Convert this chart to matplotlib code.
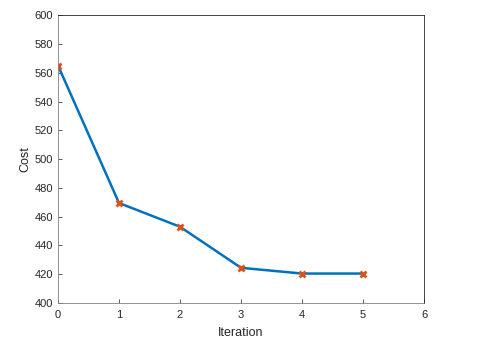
import matplotlib
matplotlib.use("Agg")
import matplotlib.pyplot as plt

plt.rcParams["font.family"] = ["Liberation Sans", "DejaVu Sans"]

iterations = [0, 1, 2, 3, 4, 5]
cost = [565, 469.5, 453, 424.5, 420.5, 420.5]

fig = plt.figure(figsize=(5, 3.44), dpi=100)
ax = fig.add_axes([0.116, 0.119, 0.732, 0.837])

ax.plot(iterations, cost, color="#0072BD", linewidth=1.8)
ax.plot(iterations, cost, linestyle="none", marker="x", color="#D95319",
        markersize=5, markeredgewidth=2)

ax.set_xlim(0, 6)
ax.set_ylim(400, 600)
ax.set_xticks(range(0, 7))
ax.set_yticks(range(400, 601, 20))
ax.set_xlabel("Iteration", fontsize=9, color="#262626", labelpad=5)
ax.set_ylabel("Cost", fontsize=9, color="#262626", labelpad=2)

for s in ax.spines.values():
    s.set_color("#262626")
    s.set_linewidth(0.6)
ax.spines["left"].set_color("#808080")
ax.spines["bottom"].set_color("#808080")
ax.tick_params(direction="in", length=3, width=0.6, color="#404040",
               labelsize=8, labelcolor="#262626", top=False, right=False)
ax.tick_params(axis="x", pad=5)

fig.savefig("out.png", dpi=100)
